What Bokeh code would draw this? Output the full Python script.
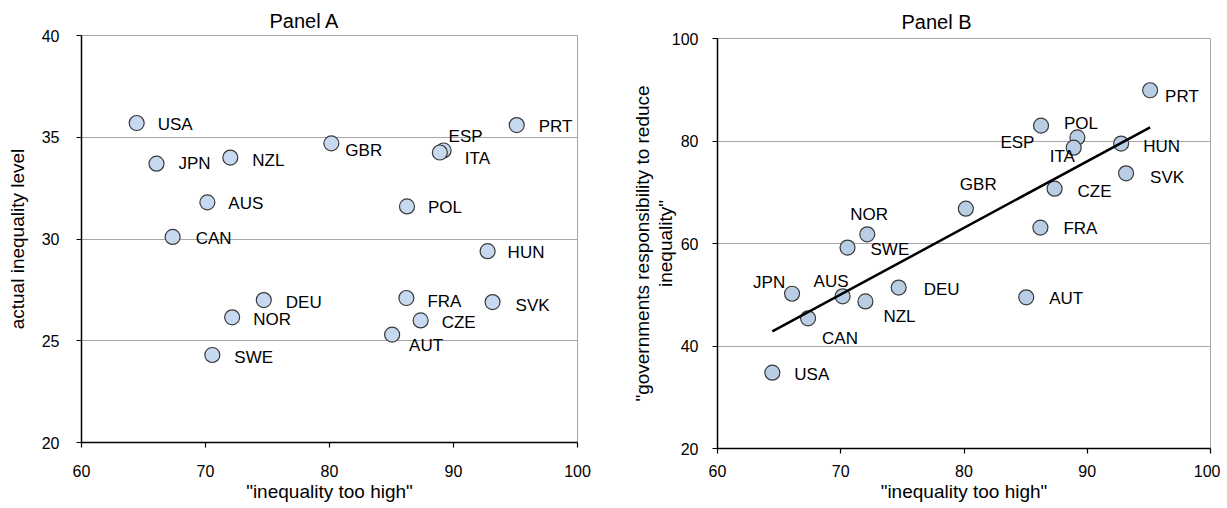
import numpy as np
from bokeh.plotting import figure
from bokeh.layouts import row, column
from bokeh.models import ColumnDataSource, Range1d, FixedTicker, Spacer
from bokeh.embed import file_html
from bokeh.resources import INLINE
from bokeh.core.properties import value

# ---------------- data ----------------
countries = ["USA", "JPN", "NZL", "AUS", "CAN", "GBR", "ESP", "ITA", "PRT",
             "POL", "HUN", "DEU", "NOR", "SWE", "FRA", "SVK", "CZE", "AUT"]
ineq_too_high = [64.45, 66.05, 72.0, 70.15, 67.35, 80.15, 89.2, 88.9, 95.1,
                 86.25, 92.75, 74.7, 72.15, 70.55, 86.2, 93.15, 87.35, 85.05]
actual_ineq = [35.7, 33.7, 34.0, 31.8, 30.1, 34.7, 34.35, 34.25, 35.6,
               31.6, 29.4, 27.0, 26.15, 24.3, 27.1, 26.9, 26.0, 25.3]
gov_resp = [34.8, 50.2, 48.7, 49.7, 45.4, 66.8, 80.7, 78.7, 89.9,
            83.0, 79.5, 51.4, 61.8, 59.2, 63.1, 73.7, 70.7, 49.5]
x_ticks = [60, 70, 80, 90, 100]
ya_ticks = [20, 25, 30, 35, 40]
yb_ticks = [20, 40, 60, 80, 100]

# label placement (screen px, relative to the marker) - styling only
lab_dx_a = [21, 22, 22, 21, 23, 14, 5, 25, 22, 21, 20, 22, 21, 22, 21, 23, 21, 17]
lab_dy_a = [1, 0, 3, 1, 2, 7, -14, 6, 1, 1, 1, 2, 2, 3, 3, 3, 2, 11]
lab_dx_b = [22, -39, 18, -29, 14, -6, -77, -24, 15, 23, 22, 25, -17, 23, 23, 24, 23, 23]
lab_dy_b = [2, -11, 15, -15, 20, -24, 5, 9, 6, -2, 3, 2, -20, 2, 1, 4, 3, 1]

FONT = "Liberation Sans"


def style(p, yticks, tick_std_x, tick_std_y, lab_std_x, lab_std_y):
    p.xaxis.ticker = FixedTicker(ticks=x_ticks)
    p.yaxis.ticker = FixedTicker(ticks=yticks)
    for ax in (p.xaxis[0], p.yaxis[0]):
        ax.axis_line_color = "black"
        ax.axis_line_width = 1.5
        ax.major_tick_line_color = "black"
        ax.major_tick_line_width = 1.2
        ax.major_tick_out = 5
        ax.major_tick_in = 0
        ax.minor_tick_out = 0
        ax.minor_tick_in = 0
        ax.major_label_text_font = FONT
        ax.major_label_text_font_size = "16px"
        ax.major_label_text_color = "black"
        ax.axis_label_text_font = FONT
        ax.axis_label_text_font_size = "19px"
        ax.axis_label_text_font_style = "normal"
        ax.axis_label_text_color = "black"
    p.xaxis.major_label_standoff = tick_std_x
    p.yaxis.major_label_standoff = tick_std_y
    p.xaxis.axis_label_standoff = lab_std_x
    p.yaxis.axis_label_standoff = lab_std_y
    p.xgrid.visible = False
    p.ygrid.grid_line_color = "#a6a6a6"
    p.ygrid.grid_line_width = 1
    p.outline_line_color = "#a6a6a6"
    p.outline_line_width = 1
    p.title.text_font = FONT
    p.title.text_font_size = "20px"
    p.title.text_font_style = "normal"
    p.title.text_color = "black"
    p.title.align = "left"


# ---------------- Panel A ----------------
src_a = ColumnDataSource(dict(x=ineq_too_high, y=actual_ineq, name=countries,
                              dx=lab_dx_a, dy=lab_dy_a))
pA = figure(title="Panel A", frame_width=496, frame_height=407,
            min_border_left=81, min_border_right=35, min_border_top=35,
            min_border_bottom=64,
            x_range=Range1d(60, 100), y_range=Range1d(20, 40),
            output_backend="svg", toolbar_location=None,
            x_axis_label='"inequality too high"',
            y_axis_label="actual inequality level")
style(pA, ya_ticks, 17, 17, 1, 11)
pA.title.offset = 188
pA.title.standoff = 7
pA.scatter("x", "y", source=src_a, size=15, fill_color="#c6d9f0",
           line_color="#3a3a3a", line_width=1.2)
pA.text("x", "y", text="name", source=src_a, x_offset="dx", y_offset="dy",
        text_font=value(FONT), text_font_size="17px", text_color="black",
        text_align="left", text_baseline="middle")

# ---------------- Panel B ----------------
src_b = ColumnDataSource(dict(x=ineq_too_high, y=gov_resp, name=countries,
                              dx=lab_dx_b, dy=lab_dy_b))
pB = figure(title="Panel B", frame_width=493, frame_height=410,
            min_border_left=105, min_border_right=10, min_border_top=35,
            min_border_bottom=58,
            x_range=Range1d(60, 100), y_range=Range1d(20, 100),
            output_backend="svg", toolbar_location=None,
            x_axis_label='"inequality too high"',
            y_axis_label='"governments responsibility to reduce\ninequality"')
style(pB, yb_ticks, 11, 14, 1, -7)
pB.yaxis.axis_label_text_line_height = 1.1
pB.title.offset = 184
pB.title.standoff = 11
pB.scatter("x", "y", source=src_b, size=15, fill_color="#b9cde5",
           line_color="#3a3a3a", line_width=1.2)
slope, intercept = np.polyfit(ineq_too_high, gov_resp, 1)
fx = [min(ineq_too_high), max(ineq_too_high)]
fy = [slope * v + intercept for v in fx]
pB.line(fx, fy, line_color="black", line_width=2.5)
pB.text("x", "y", text="name", source=src_b, x_offset="dx", y_offset="dy",
        text_font=value(FONT), text_font_size="17px", text_color="black",
        text_align="left", text_baseline="middle")

layout = row(pA, column(Spacer(width=10, height=3), pB))
open("out.html", "w").write(file_html(layout, INLINE))
